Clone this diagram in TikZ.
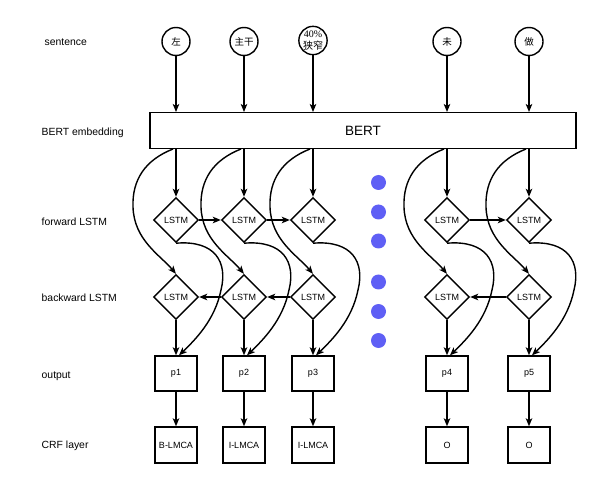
\documentclass[tikz,border=0pt]{standalone}
\usepackage{fontspec}
\setmainfont{Liberation Sans}
\newfontfamily\cjk{Noto Sans CJK SC}
\newfontfamily\serifnum{Liberation Serif}
\usetikzlibrary{shapes.geometric,arrows.meta,calc}
\definecolor{dotblue}{RGB}{95,95,245}
\begin{document}
\begin{tikzpicture}[x=1pt,y=-1pt,
  every path/.style={line width=1.4pt},
  arr/.style={-{Stealth[length=8pt,width=6.5pt,inset=2pt]}},
  word/.style={circle,draw,minimum size=28pt,inner sep=0pt,font=\cjk\fontsize{9.5}{10}\selectfont},
  lstm/.style={diamond,draw,minimum width=45pt,minimum height=45pt,inner sep=0pt,font=\fontsize{9}{10}\selectfont},
  outbox/.style={rectangle,draw,minimum width=42pt,minimum height=35pt,inner sep=0pt,font=\fontsize{9}{10}\selectfont},
  crfbox/.style={rectangle,draw,minimum width=42pt,minimum height=36pt,inner sep=0pt,font=\fontsize{9}{10}\selectfont},
  lab/.style={anchor=west,inner sep=0pt,font=\fontsize{10.4}{12}\selectfont},
  dot/.style={circle,fill=dotblue,minimum size=15pt,inner sep=0pt}
]
\useasboundingbox (0,0) rectangle (592,481);

% left labels
\node[lab] (l1) at (44,42) {sentence};
\node[lab] (l2) at (41,133) {BERT embedding};
\node[lab] (l3) at (41,222) {forward LSTM};
\node[lab] (l4) at (41,298) {backward LSTM};
\node[lab] (l5) at (41,376) {output};
\node[lab] (l6) at (41,446) {CRF layer};

% words
\node[word] (w1) at (176,41.5) {左};
\node[word] (w2) at (244,41.5) {主干};
\node[word,align=center,font=\fontsize{10}{12.5}\selectfont] (w3) at (313,40.5) {\serifnum 40\%\\\cjk 狭窄};
\node[word] (w4) at (447,41.5) {未};
\node[word] (w5) at (529,41.5) {做};

% BERT
\node[rectangle,draw,minimum width=426pt,minimum height=35.6pt,inner sep=0pt,font=\fontsize{13.5}{15}\selectfont] (bert) at (363,130.5) {BERT};

% LSTMs
\node[lstm] (f1) at (176,220) {LSTM};
\node[lstm] (f2) at (244,220) {LSTM};
\node[lstm] (f3) at (313,220) {LSTM};
\node[lstm] (f4) at (447,220) {LSTM};
\node[lstm] (f5) at (529,220) {LSTM};
\node[lstm] (b1) at (176,297) {LSTM};
\node[lstm] (b2) at (244,297) {LSTM};
\node[lstm] (b3) at (313,297) {LSTM};
\node[lstm] (b4) at (447,297) {LSTM};
\node[lstm] (b5) at (529,297) {LSTM};

% outputs
\node[outbox] (p1) at (176,373.5) {p1};
\node[outbox] (p2) at (244,373.5) {p2};
\node[outbox] (p3) at (313,373.5) {p3};
\node[outbox] (p4) at (447,373.5) {p4};
\node[outbox] (p5) at (529,373.5) {p5};

% CRF
\node[crfbox] (c1) at (176,445) {B-LMCA};
\node[crfbox] (c2) at (244,445) {I-LMCA};
\node[crfbox] (c3) at (313,445) {I-LMCA};
\node[crfbox] (c4) at (447,445) {O};
\node[crfbox] (c5) at (529,445) {O};

% dots
\node[dot] (d1) at (378.5,182.5) {};
\node[dot] (d2) at (378.5,212) {};
\node[dot] (d3) at (378.5,241) {};
\node[dot] (d4) at (378.5,282) {};
\node[dot] (d5) at (378.5,311.5) {};
\node[dot] (d6) at (378.5,340.5) {};

% connectors
\foreach \i in {1,...,5}{
  \draw[arr] (w\i.south) -- (w\i.south |- bert.north);
  \draw[arr] (bert.south -| f\i.north) -- (f\i.north);
  \draw[arr] (b\i.south) -- (p\i.north);
  \draw[arr] (p\i.south) -- (c\i.north);
  \draw[arr] ([xshift=-3pt]bert.south -| f\i.north)
      .. controls ($(f\i)+(-31,-60)$) and ($(f\i)+(-44,-40)$) .. ($(f\i)+(-43,-13)$)
      .. controls ($(f\i)+(-42,20)$) and ($(f\i)+(-16,35)$) .. (b\i.north);
  \draw[arr] (f\i.south)
      .. controls ($(f\i)+(39,20)$) and ($(f\i)+(52,42)$) .. ($(f\i)+(45,70)$)
      .. controls ($(f\i)+(39,100)$) and ($(f\i)+(19,120)$) .. ([xshift=3pt]p\i.north);
}
\draw[arr] (f1.east) -- (f2.west);
\draw[arr] (f2.east) -- (f3.west);
\draw[arr] (f4.east) -- (f5.west);
\draw[arr] (b2.west) -- (b1.east);
\draw[arr] (b3.west) -- (b2.east);
\draw[arr] (b5.west) -- (b4.east);
\end{tikzpicture}
\end{document}
